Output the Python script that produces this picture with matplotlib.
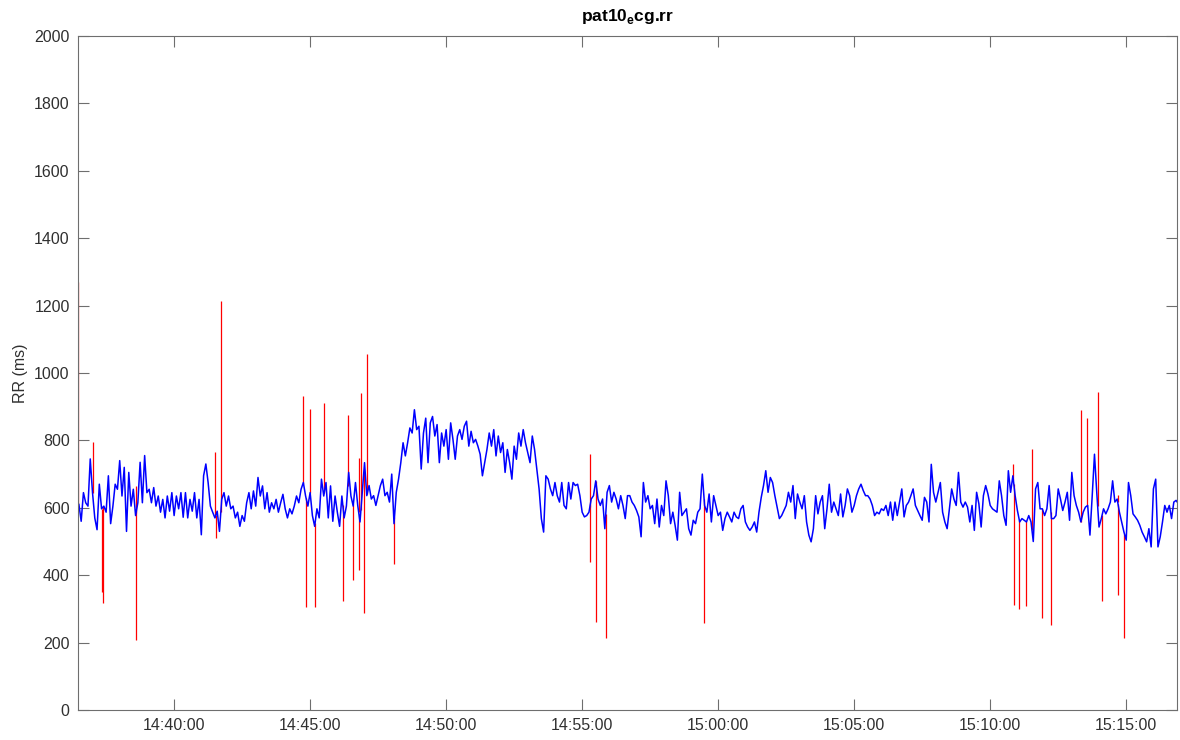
import matplotlib
matplotlib.use("Agg")
import matplotlib.pyplot as plt
import matplotlib.dates as mdates
import numpy as np
import pandas as pd

plt.rcParams['font.family'] = ['Liberation Sans', 'DejaVu Sans']
plt.rcParams['mathtext.fontset'] = 'custom'
plt.rcParams['mathtext.rm'] = 'Liberation Sans'
plt.rcParams['mathtext.bf'] = 'Liberation Sans:bold'

# --- data (RR in ms, one value every 5 s from 14:36:30) ---
rr_start = "2000-01-01 14:36:30"
rr_step = "5s"
rr_clean = [
    610, 560, 645, 615, 605, 745, 645, 570, 535, 670, 597, 605,
    587, 695, 553, 605, 670, 655, 740, 635, 720, 530, 705, 605,
    655, 577, 615, 735, 615, 755, 645, 655, 615, 660, 605, 635,
    587, 625, 570, 635, 590, 645, 577, 635, 597, 645, 572, 645,
    570, 625, 590, 645, 570, 625, 520, 695, 730, 675, 605, 587,
    570, 590, 530, 625, 645, 605, 635, 597, 605, 570, 587, 545,
    577, 560, 615, 645, 597, 650, 605, 690, 635, 665, 597, 645,
    587, 615, 597, 625, 587, 615, 640, 597, 570, 597, 582, 605,
    635, 615, 655, 675, 635, 605, 645, 577, 545, 597, 570, 685,
    635, 675, 570, 665, 560, 635, 587, 545, 635, 570, 605, 705,
    635, 605,
    675, 607, 558, 646, 734, 636, 666, 626, 636, 607, 636, 666,
    685, 636, 646, 617, 700, 553, 646, 685, 734, 793, 754, 793,
    837, 822, 891, 832, 842, 715, 822, 866, 734, 852, 871, 813,
    847, 734, 822, 783, 832, 744, 852, 803, 744, 813, 832, 803,
    842, 857, 783, 827, 793, 803, 783, 759, 695, 734, 773, 822,
    783, 832, 754, 813, 764, 793, 705, 773, 734, 685, 783, 744,
    822, 783, 832, 793, 764, 734, 813, 773, 715, 656, 568, 528,
    695, 685, 656, 636, 675, 636, 617, 675, 607, 597, 675, 626,
    675, 666, 670, 636, 587, 573, 577, 587, 626, 636, 680, 626,
    607, 626, 538, 646, 666, 617, 646, 626, 597, 636, 607, 568,
    636,
    636, 617, 607, 592, 573, 514, 675, 617, 636, 597, 607, 553,
    626, 543, 607, 577, 680, 636, 553, 587, 548, 504, 646, 577,
    587, 597, 538, 519, 563, 553, 587, 597, 700, 607, 587, 641,
    558, 636, 607, 577, 587, 533, 568, 587, 573, 558, 587, 573,
    568, 597, 607, 558, 543, 533, 543, 558, 528, 587, 631, 666,
    710, 646, 690, 675, 636, 602, 568, 577, 592, 607, 646, 617,
    666, 568, 641, 617, 597, 636, 558, 519, 499, 538, 636, 582,
    617, 636, 538, 597, 670, 587, 617, 597, 577, 641, 573, 607,
    656, 636, 587, 607, 636, 656, 670, 651, 636, 636, 626, 607,
    577, 587, 582, 597, 592, 607, 577, 617, 563, 617, 577, 617,
    656, 573,
    607, 617, 636, 656, 607, 592, 577, 563, 631, 617, 558, 729,
    646, 617, 646, 675, 587, 558, 538, 597, 656, 626, 607, 705,
    617, 602, 617, 602, 558, 607, 533, 646, 612, 543, 636, 666,
    641, 607, 597, 592, 587, 680, 636, 577, 548, 710, 646, 695,
    636, 592, 558, 568, 563, 558, 577, 558, 500, 656, 675, 597,
    597, 577, 597, 666, 568, 568, 577, 656, 626, 592, 617, 646,
    563, 705, 636, 607, 587, 558, 587, 602, 607, 519, 636, 759,
    646, 543, 568, 597, 582, 597, 617, 680, 617, 626, 587, 558,
    528, 504, 675, 636, 582, 573, 563, 548, 528, 514, 499, 538,
    484, 656, 685, 484, 514, 558, 607, 587, 607, 568, 617, 622,
    612,
]

# artefact beats in the raw series (red)
spike_times = [
    "14:36:29", "14:37:00", "14:37:20", "14:37:24", "14:38:36", "14:38:37",
    "14:41:31", "14:41:32", "14:41:43", "14:44:44", "14:44:51", "14:45:00",
    "14:45:11", "14:45:31", "14:46:12", "14:46:23", "14:46:34", "14:46:47",
    "14:46:48", "14:46:52", "14:46:59", "14:47:06", "14:48:06", "14:55:17",
    "14:55:18", "14:55:30", "14:55:52", "14:59:29", "15:10:51", "15:10:52",
    "15:11:04", "15:11:18", "15:11:32", "15:11:55", "15:12:14", "15:13:20",
    "15:13:34", "15:13:57", "15:14:07", "15:14:41", "15:14:42", "15:14:56",
]
spike_values = [
    1270, 795, 350, 318, 665, 208,
    766, 511, 1213, 933, 307, 893,
    307, 911, 322, 876, 386, 747,
    416, 940, 289, 1057, 434, 759,
    440, 262, 213, 259, 731, 312,
    299, 309, 774, 272, 252, 889,
    866, 943, 322, 638, 341, 213,
]

x_start = "2000-01-01 14:36:28"
x_end = "2000-01-01 15:16:52"
x_tick_labels = ["14:40:00", "14:45:00", "14:50:00", "14:55:00",
                 "15:00:00", "15:05:00", "15:10:00", "15:15:00"]
y_ticks = list(range(0, 2001, 200))

# --- build series ---
t = pd.date_range(rr_start, periods=len(rr_clean), freq=rr_step)
rr = np.array(rr_clean, dtype=float)
st = pd.to_datetime(["2000-01-01 " + s for s in spike_times])
t_num = mdates.date2num(t)
st_num = mdates.date2num(st)
base = np.interp(st_num, t_num, rr)

# --- plot ---
fig = plt.figure(figsize=(11.8, 7.4), dpi=100)
ax = fig.add_axes([78 / 1180, 1 - 710 / 740, (1177 - 78) / 1180, (710 - 36) / 740])

ax.vlines(st_num, base, spike_values, color=(1, 0, 0), linewidth=0.9)
ax.plot(t_num, rr, color=(0, 0, 1), linewidth=1.1)

ax.set_xlim(mdates.date2num(pd.Timestamp(x_start)), mdates.date2num(pd.Timestamp(x_end)))
ax.set_ylim(0, 2000)
ax.set_yticks(y_ticks)
xt = pd.to_datetime(["2000-01-01 " + s for s in x_tick_labels])
ax.set_xticks(mdates.date2num(xt))
ax.set_xticklabels(x_tick_labels)

axis_col = '#6e6e6e'
for sp in ax.spines.values():
    sp.set_color(axis_col)
    sp.set_linewidth(0.8)
ax.tick_params(direction='in', length=8, width=0.8, color=axis_col,
               labelcolor='#303030', labelsize=11.5, top=True, right=True, pad=6)

ax.set_ylabel("RR (ms)", fontsize=11.5, color='#303030', labelpad=4)
ax.set_title(r"pat10$_\mathbf{e}$cg.rr", fontsize=12.5, fontweight='bold',
             color='black', pad=11)

fig.savefig("out.png", dpi=100)
